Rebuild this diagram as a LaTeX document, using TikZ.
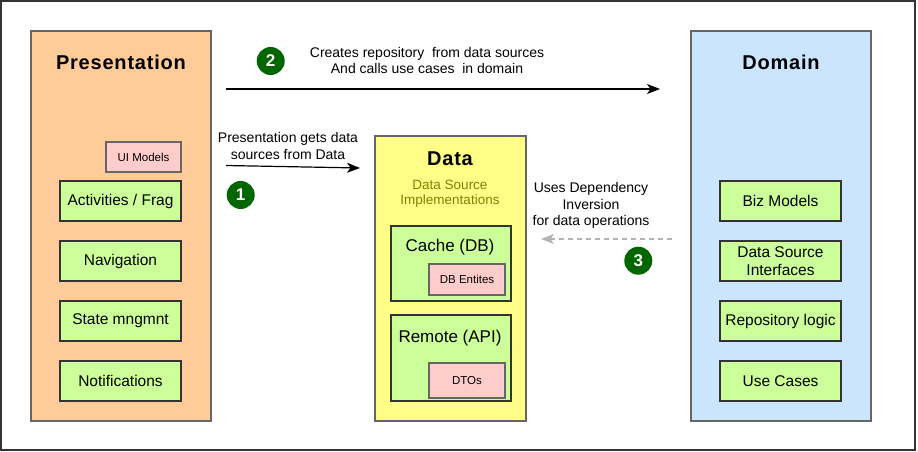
\documentclass[tikz,border=0pt]{standalone}
\usepackage{fontspec}
\setmainfont{Liberation Sans}
\newfontfamily\titlefont[LetterSpace=4]{Liberation Sans}
\usetikzlibrary{arrows.meta}
\definecolor{presfill}{HTML}{FFCC99}
\definecolor{domfill}{HTML}{CCE5FF}
\definecolor{datafill}{HTML}{FFFF88}
\definecolor{greenfill}{HTML}{CCFF99}
\definecolor{pinkfill}{HTML}{FFCCCC}
\definecolor{layerline}{HTML}{666666}
\definecolor{boxline}{HTML}{333333}
\definecolor{olive}{HTML}{808000}
\definecolor{badge}{HTML}{006600}
\definecolor{dashgray}{HTML}{B3B3B3}
\tikzset{
  layer/.style={draw=layerline, line width=1.3pt, minimum width=180pt, minimum height=390pt, inner sep=0pt},
  layertitle/.style={font=\titlefont\fontsize{20}{24}\selectfont\bfseries, inner sep=0pt},
  itembox/.style={draw=boxline, fill=greenfill, line width=1.5pt, minimum width=121pt, minimum height=40pt, inner sep=0pt, align=center, font=\fontsize{15.5}{17.7}\selectfont},
  tagbox/.style={draw=layerline, fill=pinkfill, line width=1.3pt, inner sep=0pt, font=\fontsize{11.5}{13}\selectfont},
  arrowlabel/.style={align=center, inner sep=0pt, font=\fontsize{14}{16.5}\selectfont},
  numbadge/.style={circle, fill=badge, minimum size=28pt, inner sep=0pt, text=white, font=\fontsize{17}{20}\selectfont\bfseries},
  flow/.style={line width=1.2pt, -{Stealth[length=13pt,width=10pt,inset=3.5pt]}},
}
\begin{document}
\begin{tikzpicture}[x=1pt,y=-1pt]
\useasboundingbox (0,0) rectangle (918,452);
\node[draw=boxline, line width=2pt, minimum width=914pt, minimum height=449pt, inner sep=0pt] (frame) at (458,225.5) {};

% Presentation layer
\node[layer, fill=presfill] (pres) at (121,226) {};
\node[layertitle] (prestitle) at (121,62) {Presentation};
\node[tagbox, minimum width=75pt, minimum height=30pt] (uimodels) at (143.5,157) {UI Models};
\node[itembox] (activities) at (120.5,201) {Activities / Frag};
\node[itembox] (navigation) at (120.5,261) {Navigation};
\node[itembox] (state) at (120.5,321) {State mngmnt};
\node[itembox] (notif) at (120.5,381) {Notifications};

% Domain layer
\node[layer, fill=domfill] (domain) at (781,226) {};
\node[layertitle] (domtitle) at (781,62) {Domain};
\node[itembox] (biz) at (780.5,201) {Biz Models};
\node[itembox] (dsi) at (780.5,261) {Data Source\\Interfaces};
\node[itembox] (repo) at (780.5,321) {Repository logic};
\node[itembox] (usecases) at (780.5,381) {Use Cases};

% Data layer
\node[layer, fill=datafill, minimum width=151pt, minimum height=285pt] (data) at (450.5,278.5) {};
\node[layertitle] (datatitle) at (450,159) {Data};
\node[align=center, inner sep=0pt, text=olive, font=\fontsize{13.5}{15}\selectfont] (dsimpl) at (450,194) {Data Source\\Implementations};
\node[itembox, minimum width=120pt, minimum height=75pt] (cache) at (451,263.5) {};
\node[inner sep=0pt, font=\fontsize{17}{20}\selectfont] (cachetitle) at (450,247) {Cache (DB)};
\node[tagbox, minimum width=76pt, minimum height=31pt] (dbent) at (467,279.5) {DB Entites};
\node[itembox, minimum width=120pt, minimum height=86pt] (remote) at (451,358) {};
\node[inner sep=0pt, font=\fontsize{17}{20}\selectfont] (remotetitle) at (450,338) {Remote (API)};
\node[tagbox, minimum width=76pt, minimum height=35pt] (dtos) at (467,380.5) {DTOs};

% Arrow 2
\coordinate (a2s) at (226,89);
\coordinate (a2e) at (660,89);
\draw[flow] (a2s) -- (a2e);
\node[arrowlabel] (lab2) at (427,60.5) {Creates repository\ \ from data sources\\And calls use cases\ \ in domain};
\node[numbadge] (n2) at (270.7,61) {2};

% Arrow 1
\coordinate (a1s) at (226,165.5);
\coordinate (a1e) at (360,168);
\draw[flow] (a1s) -- (a1e);
\node[arrowlabel] (lab1) at (288,146) {Presentation gets data\\sources from Data};
\node[numbadge] (n1) at (240.7,195) {1};

% Arrow 3
\coordinate (a3s) at (672,239);
\coordinate (a3e) at (541,239);
\draw[draw=dashgray, line width=1.2pt, dash pattern=on 5pt off 4pt, -{Stealth[length=13pt,width=10pt,inset=3.5pt]}] (a3s) -- (a3e);
\node[arrowlabel] (lab3) at (591,205.7) {Uses Dependency\\Inversion\\for data operations};
\node[numbadge] (n3) at (638.3,260.7) {3};
\end{tikzpicture}
\end{document}
